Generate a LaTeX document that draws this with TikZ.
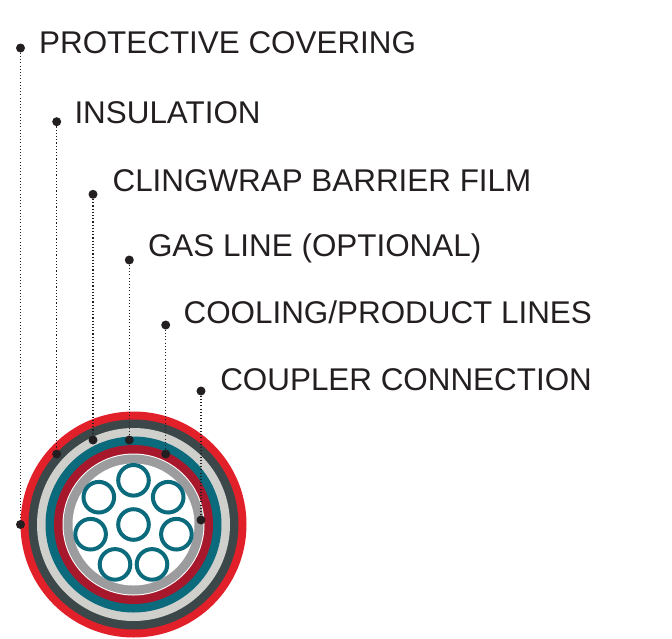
\documentclass[tikz,border=0pt]{standalone}
\usepackage{fontspec}
\setmainfont{Liberation Sans}
\usetikzlibrary{
    calc,
    positioning
}
\definecolor{ink}{HTML}{231F20}
\definecolor{jacketred}{HTML}{E2202A}
\definecolor{slate}{HTML}{3B4749}
\definecolor{paleGrey}{HTML}{CFCFCC}
\definecolor{tubeteal}{HTML}{0B6A7C}
\definecolor{wine}{HTML}{A8182C}
\definecolor{midGrey}{HTML}{9C9C9E}

\begin{document}
\begin{tikzpicture}[
    x=1pt, y=-1pt,
    tag/.style={
      anchor=base west,
      inner sep=0pt,
      text=ink,
      font=\fontsize{31.4}{36}\selectfont
    },
    pin/.style={
      circle,
      fill=ink,
      inner sep=0pt,
      minimum size=9pt
    },
    leader/.style={
      ink,
      line width=1.1pt,
      dash pattern=on 1.1pt off 2.1pt
    },
    tube/.style={
      draw=tubeteal,
      line width=4pt
    }
  ]

  \useasboundingbox (0,0) rectangle (672,638);

  % cable cross-section {{{
  \coordinate (core) at (133.5,524.5);
  \fill[jacketred] (core) circle[radius=113pt];
  \fill[slate]     (core) circle[radius=105pt];
  \fill[paleGrey]  (core) circle[radius=96.5pt];
  \fill[tubeteal]  (core) circle[radius=88pt];
  \fill[wine]      (core) circle[radius=79.5pt];
  \fill[white]     (core) circle[radius=71pt];
  \fill[midGrey]   (core) circle[radius=70pt];
  \fill[white]     (core) circle[radius=61pt];
  % }}}

  % product tubes {{{
  \draw[tube] (133.5,524.5) circle[radius=15.3pt];
  \draw[tube] (133.5,480.3) circle[radius=15.3pt];
  \draw[tube] (98.8,497.2)  circle[radius=15.3pt];
  \draw[tube] (90.6,534.2)  circle[radius=15.3pt];
  \draw[tube] (115.0,564.4) circle[radius=15.3pt];
  \draw[tube] (152.0,564.4) circle[radius=15.3pt];
  \draw[tube] (176.4,534.2) circle[radius=15.3pt];
  \draw[tube] (168.2,497.2) circle[radius=15.3pt];
  % }}}

  % 1. protective covering {{{
  \node[tag] (covering) at (39,53.3) {PROTECTIVE COVERING};
  \node[pin] (coveringTop) at (20.5,48) {};
  \node[pin] (coveringEnd) at (20.5,524.5) {};
  \draw[leader] (coveringTop) -- (coveringEnd);
  % }}}

  % 2. insulation {{{
  \node[tag] (insulation) at (74.3,123.3) {INSULATION};
  \node[pin] (insulationTop) at (56.7,121.7) {};
  \node[pin] (insulationEnd) at (56.7,454) {};
  \draw[leader] (insulationTop) -- (insulationEnd);
  % }}}

  % 3. clingwrap barrier film {{{
  \node[tag] (film) at (112.4,191.7) {CLINGWRAP BARRIER FILM};
  \node[pin] (filmTop) at (93,194.3) {};
  \node[pin] (filmEnd) at (93,440) {};
  \draw[leader] (filmTop) -- (filmEnd);
  % }}}

  % 4. gas line {{{
  \node[tag] (gas) at (147.8,256) {GAS LINE (OPTIONAL)};
  \node[pin] (gasTop) at (129.3,260) {};
  \node[pin] (gasEnd) at (129.3,440) {};
  \draw[leader] (gasTop) -- (gasEnd);
  % }}}

  % 5. cooling/product lines {{{
  \node[tag] (cooling) at (183.4,323.3) {COOLING/PRODUCT LINES};
  \node[pin] (coolingTop) at (165.7,325) {};
  \node[pin] (coolingEnd) at (165.7,454) {};
  \draw[leader] (coolingTop) -- (coolingEnd);
  % }}}

  % 6. coupler connection {{{
  \node[tag] (coupler) at (220.1,390.7) {COUPLER CONNECTION};
  \node[pin] (couplerTop) at (201,391) {};
  \node[pin] (couplerEnd) at (201,520) {};
  \draw[leader] (couplerTop) -- (couplerEnd);
  % }}}

\end{tikzpicture}
\end{document}
